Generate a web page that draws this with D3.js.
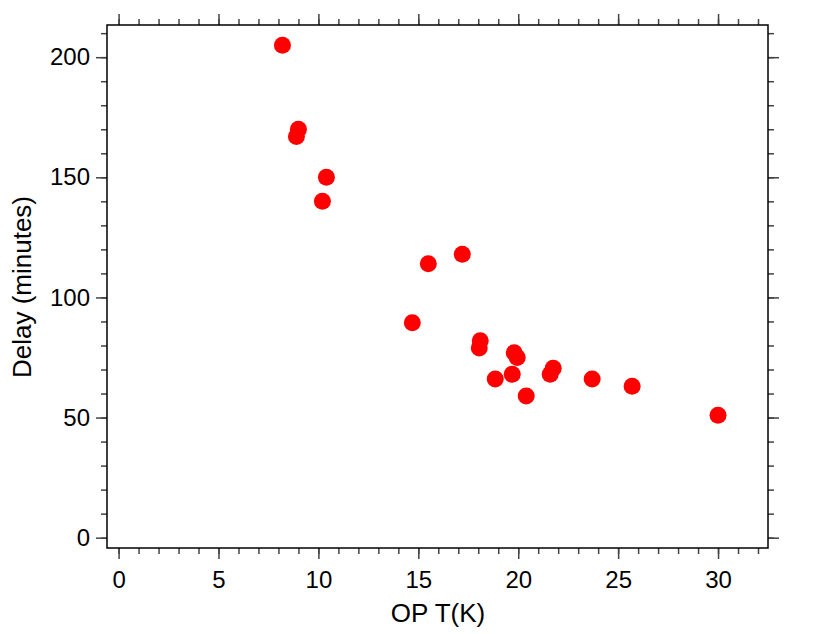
<!DOCTYPE html>
<html><head><meta charset="utf-8">
<script src="https://cdn.jsdelivr.net/npm/d3@7/dist/d3.min.js"></script>
<style>body{margin:0;background:#fff}svg{display:block}text{font-family:"Liberation Sans",Arial,sans-serif;fill:#000}</style>
</head><body><svg id="c" width="830" height="634"></svg>
<script>
const opT = [8.2, 9.0, 8.9, 10.4, 10.2, 15.5, 17.2, 14.7, 18.1, 18.05, 19.8, 19.95, 18.85, 19.7, 20.4, 21.75, 21.6, 23.7, 25.7, 30.0];
const delay = [205, 170, 167, 150, 140, 114, 118, 89.5, 82, 79, 77, 75, 66, 68, 59, 70.5, 68, 66, 63, 51];
const xTicks = [0, 5, 10, 15, 20, 25, 30];
const yTicks = [0, 50, 100, 150, 200];
const xLabel = "OP T(K)";
const yLabel = "Delay (minutes)";

const svg = d3.select("#c");
const L = 107, R = 768, T = 25, B = 548;
const x = d3.scaleLinear().domain([-0.58, 32.5]).range([L, R]);
const y = d3.scaleLinear().domain([-4.3, 213.4]).range([B, T]);

const minorX = d3.range(0, 33, 1);
const minorY = d3.range(0, 214, 10);
const tc = "#444";

function drawAxis(axisGen, tr, minor, major, showLabels, pad) {
  const gm = svg.append("g").attr("transform", tr).call(axisGen.tickValues(minor).tickSize(6).tickFormat(""));
  gm.select(".domain").remove();
  gm.selectAll("line").attr("stroke", tc).attr("stroke-width", 1.5);
  const g = svg.append("g").attr("transform", tr).call(axisGen.tickValues(major).tickSize(11).tickPadding(pad).tickFormat(showLabels ? d3.format("d") : ""));
  g.select(".domain").remove();
  g.selectAll("line").attr("stroke", tc).attr("stroke-width", 1.5);
  g.selectAll("text").attr("font-size", 24).attr("font-family", "Liberation Sans, Arial, sans-serif").attr("fill", "#000");
  return g;
}
drawAxis(d3.axisBottom(x), `translate(0,${B})`, minorX, xTicks, true, 12);
drawAxis(d3.axisTop(x), `translate(0,${T})`, minorX, xTicks, false, 3);
drawAxis(d3.axisLeft(y), `translate(${L},0)`, minorY, yTicks, true, 6);
drawAxis(d3.axisRight(y), `translate(${R},0)`, minorY, yTicks, false, 3);

svg.append("rect").attr("x", L).attr("y", T).attr("width", R - L).attr("height", B - T)
  .attr("fill", "none").attr("stroke", "#000").attr("stroke-width", 1.5);

svg.append("g").selectAll("circle").data(opT.map((v, i) => [v, delay[i]])).join("circle")
  .attr("cx", d => x(d[0])).attr("cy", d => y(d[1])).attr("r", 8.5).attr("fill", "#ff0000");

svg.append("text").attr("x", 438).attr("y", 622).attr("text-anchor", "middle").attr("font-size", 26).text(xLabel);
svg.append("text").attr("transform", `translate(31,287) rotate(-90)`).attr("text-anchor", "middle").attr("font-size", 26).text(yLabel);
</script></body></html>
